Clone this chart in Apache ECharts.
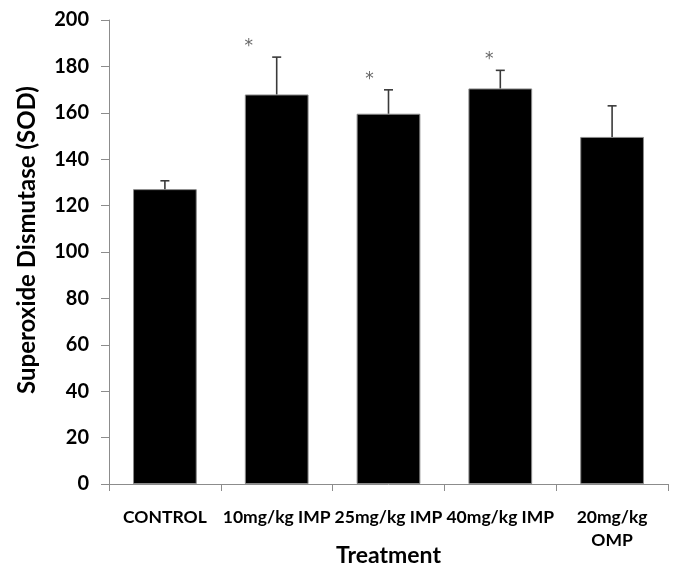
<!DOCTYPE html>
<html>
<head>
<meta charset="utf-8">
<script src="https://cdn.jsdelivr.net/npm/echarts@6/dist/echarts.min.js"></script>
<style>
  html, body { margin: 0; padding: 0; background: #fff; }
  #chart { width: 681px; height: 574px; }
</style>
</head>
<body>
<div id="chart"></div>
<script>
// treatment groups and SOD values
var categories = ['CONTROL', '10mg/kg IMP', '25mg/kg IMP', '40mg/kg IMP', '20mg/kg\nOMP'];
var sodMeans = [127.1, 167.9, 159.6, 170.5, 149.6];
var sodErrTop = [130.7, 184.0, 169.9, 178.3, 163.0];
// significance marks (null = none)
var starValues = [null, 190.6, 176.6, 184.9, null];
var yTicks = { min: 0, max: 200, step: 20 };

var dom = document.getElementById('chart');
var chart = echarts.init(dom);

var font = 'Lato, "Open Sans", sans-serif';
var axisGrey = '#8c8c8c';
// stars sit a bit left of bar centre in the original
var starShift = [0, -28, -19, -11, 0];

var errData = categories.map(function (c, i) {
    return [i, sodMeans[i], sodErrTop[i]];
});
var starData = [];
starValues.forEach(function (v, i) {
    if (v !== null) starData.push({ value: [i, v], label: { offset: [starShift[i], 5] } });
});

var option = {
    animation: false,
    grid: {
        left: 109,
        top: 20,
        right: 13,
        bottom: 90,
        containLabel: false,
        outerBoundsMode: 'none'
    },
    xAxis: {
        type: 'category',
        data: categories,
        name: 'Treatment',
        nameLocation: 'middle',
        nameGap: 60,
        nameMoveOverlap: false,
        nameTextStyle: {
            fontFamily: font,
            fontWeight: 'bold',
            fontSize: 23,
            color: '#000'
        },
        axisLine: { lineStyle: { color: axisGrey, width: 1 } },
        axisTick: { show: true, length: 7, lineStyle: { color: axisGrey } },
        axisLabel: {
            fontFamily: font,
            fontWeight: 'bold',
            fontSize: 17.5,
            color: '#000',
            margin: 22,
            lineHeight: 23,
            interval: 0
        }
    },
    yAxis: {
        type: 'value',
        min: yTicks.min,
        max: yTicks.max,
        interval: yTicks.step,
        name: 'Superoxide Dismutase (SOD)',
        nameLocation: 'middle',
        nameGap: 70,
        nameMoveOverlap: false,
        nameTextStyle: {
            fontFamily: font,
            fontWeight: 'bold',
            fontSize: 24,
            color: '#000',
            padding: [0, 0, 0, 24]
        },
        axisLine: { show: true, lineStyle: { color: axisGrey, width: 1 } },
        axisTick: { show: true, length: 8, lineStyle: { color: axisGrey } },
        splitLine: { show: false },
        axisLabel: {
            fontFamily: font,
            fontWeight: 'bold',
            fontSize: 20,
            color: '#000',
            margin: 20
        }
    },
    series: [
        {
            type: 'bar',
            data: sodMeans,
            barWidth: '57%',
            itemStyle: {
                color: '#000',
                borderColor: '#8a8a8a',
                borderWidth: 1
            },
            z: 2
        },
        {
            type: 'custom',
            data: errData,
            z: 3,
            renderItem: function (params, api) {
                var x = api.value(0);
                var low = api.coord([x, api.value(1)]);
                var high = api.coord([x, api.value(2)]);
                var half = 4.5;
                var st = { stroke: '#3a3a3a', lineWidth: 1.6 };
                return {
                    type: 'group',
                    children: [
                        { type: 'line', shape: { x1: low[0], y1: low[1], x2: high[0], y2: high[1] }, style: st },
                        { type: 'line', shape: { x1: high[0] - half, y1: high[1], x2: high[0] + half, y2: high[1] }, style: st }
                    ]
                };
            }
        },
        {
            type: 'scatter',
            data: starData,
            symbolSize: 0,
            z: 4,
            label: {
                show: true,
                position: 'inside',
                formatter: '*',
                fontFamily: '"DejaVu Sans", sans-serif',
                fontSize: 17,
                color: '#404040'
            }
        }
    ]
};
chart.setOption(option);
</script>
</body>
</html>
